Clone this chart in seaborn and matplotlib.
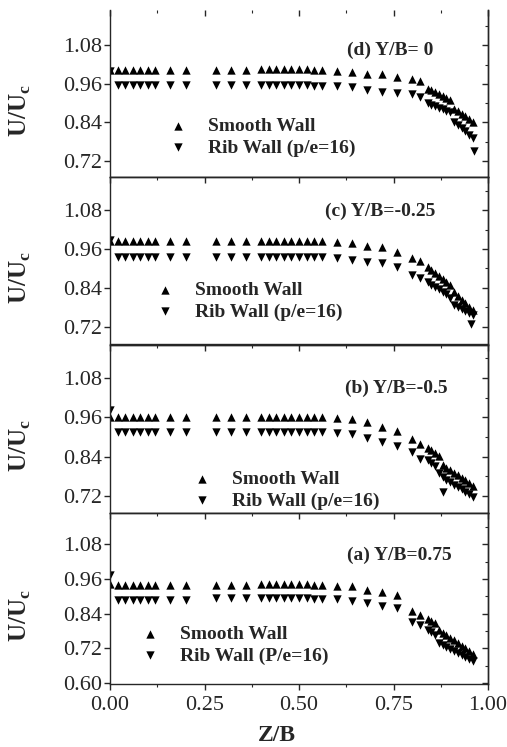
import pandas as pd
import seaborn as sns
import matplotlib.pyplot as plt
from matplotlib.ticker import MultipleLocator, FormatStrFormatter

# Posições Z/B (comuns às duas séries)
Z = [0.00, 0.02, 0.04, 0.06, 0.08, 0.10, 0.12, 0.16, 0.20, 0.28, 0.32, 0.36,
     0.40, 0.42, 0.44, 0.46, 0.48, 0.50, 0.52, 0.54, 0.56, 0.60, 0.64, 0.68,
     0.72, 0.76, 0.80, 0.82, 0.84, 0.85, 0.86, 0.87, 0.88, 0.89, 0.90, 0.91,
     0.92, 0.93, 0.94, 0.95, 0.96]

# (d) Y/B = 0
smooth_d = [1.003, 1.003, 1.003, 1.003, 1.003, 1.003, 1.003, 1.003, 1.003, 1.004, 1.004, 1.004,
            1.006, 1.006, 1.006, 1.006, 1.006, 1.006, 1.005, 1.004, 1.004, 1.001, 0.998, 0.992,
            0.991, 0.981, 0.975, 0.968, 0.945, 0.940, 0.934, 0.928, 0.922, 0.917, 0.911, 0.883,
            0.875, 0.867, 0.859, 0.851, 0.842]
rib_d = [1.000, 0.955, 0.955, 0.955, 0.955, 0.955, 0.955, 0.955, 0.955, 0.955, 0.955, 0.955,
         0.956, 0.956, 0.956, 0.955, 0.955, 0.955, 0.955, 0.954, 0.954, 0.953, 0.949, 0.942,
         0.935, 0.932, 0.927, 0.920, 0.899, 0.895, 0.890, 0.886, 0.882, 0.877, 0.873, 0.842,
         0.832, 0.822, 0.812, 0.801, 0.790]
rib_d_extra_z = [0.963]
rib_d_extra_u = [0.752]

# (c) Y/B = -0.25
smooth_c = [0.985, 0.985, 0.985, 0.985, 0.985, 0.985, 0.985, 0.985, 0.985, 0.985, 0.985, 0.985,
            0.986, 0.986, 0.986, 0.986, 0.986, 0.986, 0.986, 0.985, 0.985, 0.981, 0.977, 0.970,
            0.967, 0.952, 0.931, 0.923, 0.905, 0.896, 0.887, 0.878, 0.868, 0.858, 0.848, 0.826,
            0.815, 0.804, 0.793, 0.782, 0.771]
rib_c = [0.988, 0.934, 0.934, 0.934, 0.934, 0.934, 0.934, 0.934, 0.934, 0.934, 0.934, 0.934,
         0.935, 0.935, 0.935, 0.935, 0.935, 0.935, 0.934, 0.934, 0.934, 0.933, 0.926, 0.921,
         0.918, 0.904, 0.880, 0.872, 0.857, 0.850, 0.843, 0.836, 0.828, 0.820, 0.810, 0.787,
         0.781, 0.775, 0.769, 0.763, 0.757]
rib_c_extra_z = [0.955]
rib_c_extra_u = [0.728]

# (b) Y/B = -0.5
smooth_b = [0.962, 0.961, 0.961, 0.961, 0.961, 0.961, 0.961, 0.961, 0.961, 0.961, 0.961, 0.961,
            0.962, 0.962, 0.962, 0.962, 0.962, 0.962, 0.961, 0.961, 0.961, 0.958, 0.953, 0.946,
            0.930, 0.918, 0.895, 0.877, 0.867, 0.859, 0.850, 0.842, 0.815, 0.806, 0.798, 0.790,
            0.783, 0.776, 0.768, 0.760, 0.750]
rib_b = [0.981, 0.915, 0.915, 0.915, 0.915, 0.915, 0.915, 0.915, 0.915, 0.915, 0.915, 0.915,
         0.915, 0.915, 0.915, 0.915, 0.915, 0.915, 0.915, 0.914, 0.914, 0.912, 0.908, 0.898,
         0.885, 0.872, 0.855, 0.834, 0.829, 0.820, 0.810, 0.790, 0.777, 0.769, 0.762, 0.754,
         0.747, 0.740, 0.733, 0.726, 0.718]
rib_b_extra_z = [0.88]
rib_b_extra_u = [0.733]

# (a) Y/B = 0.75
smooth_a = [0.943, 0.940, 0.940, 0.940, 0.940, 0.940, 0.940, 0.940, 0.940, 0.940, 0.940, 0.940,
            0.942, 0.942, 0.942, 0.942, 0.942, 0.942, 0.942, 0.941, 0.941, 0.938, 0.938, 0.923,
            0.917, 0.905, 0.848, 0.836, 0.821, 0.814, 0.807, 0.784, 0.775, 0.766, 0.757, 0.748,
            0.739, 0.730, 0.721, 0.711, 0.700]
rib_a = [0.975, 0.888, 0.888, 0.888, 0.888, 0.888, 0.888, 0.888, 0.888, 0.894, 0.894, 0.894,
         0.894, 0.894, 0.894, 0.894, 0.894, 0.894, 0.894, 0.893, 0.893, 0.890, 0.886, 0.879,
         0.867, 0.861, 0.813, 0.802, 0.784, 0.776, 0.767, 0.738, 0.731, 0.724, 0.717, 0.710,
         0.703, 0.696, 0.689, 0.682, 0.675]
rib_a_extra_z = []
rib_a_extra_u = []

titulos = ["(d) Y/B= 0", "(c) Y/B=-0.25", "(b) Y/B=-0.5", "(a) Y/B=0.75"]
rotulos_rib = ["Rib Wall (p/e=16)", "Rib Wall (p/e=16)", "Rib Wall (p/e=16)", "Rib Wall (P/e=16)"]
yticks_cima = [0.72, 0.84, 0.96, 1.08]
yticks_baixo = [0.60, 0.72, 0.84, 0.96, 1.08]
xticks = [0.00, 0.25, 0.50, 0.75, 1.00]

# Configurar estilo
sns.set_style("ticks")
plt.rcParams['font.family'] = ['Liberation Serif', 'DejaVu Serif']
plt.rcParams['mathtext.fontset'] = 'custom'
plt.rcParams['mathtext.rm'] = 'Liberation Serif:bold'
plt.rcParams['mathtext.bf'] = 'Liberation Serif:bold'
plt.rcParams['axes.linewidth'] = 1.0

W, H = 507, 747
fig = plt.figure(figsize=(W / 100, H / 100), dpi=100)

# layout em pixels
paineis = [
    dict(top=10, bottom=177, ylim=(0.670, 1.190), leg_x=208, leg_y=137, tit_x=347, tit_y=50,
         smooth=smooth_d, rib=rib_d, ez=rib_d_extra_z, eu=rib_d_extra_u, yt=yticks_cima),
    dict(top=177, bottom=344, ylim=(0.667, 1.182), leg_x=195, leg_y=301, tit_x=325, tit_y=211,
         smooth=smooth_c, rib=rib_c, ez=rib_c_extra_z, eu=rib_c_extra_u, yt=yticks_cima),
    dict(top=345, bottom=513, ylim=(0.668, 1.180), leg_x=232, leg_y=490, tit_x=345, tit_y=388,
         smooth=smooth_b, rib=rib_b, ez=rib_b_extra_z, eu=rib_b_extra_u, yt=yticks_cima),
    dict(top=513, bottom=684, ylim=(0.597, 1.189), leg_x=180, leg_y=645, tit_x=347, tit_y=555,
         smooth=smooth_a, rib=rib_a, ez=rib_a_extra_z, eu=rib_a_extra_u, yt=yticks_baixo),
]

X0, XW = 110, 378
fs_leg = 14

for i, p in enumerate(paineis):
    hpx = p['bottom'] - p['top']
    ax = fig.add_axes([X0 / W, 1 - p['bottom'] / H, XW / W, hpx / H])

    sns.scatterplot(x=Z, y=p['smooth'], marker='^', color='black', s=36,
                    linewidth=0, ax=ax, label='Smooth Wall')
    sns.scatterplot(x=Z + p['ez'], y=p['rib'] + p['eu'], marker='v', color='black', s=36,
                    linewidth=0, ax=ax, label=rotulos_rib[i])

    ax.set_xlim(0, 1)
    ax.set_ylim(*p['ylim'])
    ax.set_yticks(p['yt'])
    ax.yaxis.set_major_formatter(FormatStrFormatter('%.2f'))
    ax.tick_params(axis='y', direction='out', length=4, width=1, labelsize=16, pad=2)
    ax.set_xticks(xticks)
    ax.xaxis.set_major_formatter(FormatStrFormatter('%.2f'))

    # ticks do lado direito e de cima (para dentro)
    sy = ax.secondary_yaxis('right')
    sy.set_yticks(p['yt'])
    sy.yaxis.set_minor_locator(MultipleLocator(0.06))
    sy.tick_params(which='major', direction='in', length=4, width=1, labelright=False)
    sy.tick_params(which='minor', direction='in', length=2.5, width=0.8)
    sx = ax.secondary_xaxis('top')
    sx.set_xticks(xticks)
    sx.xaxis.set_minor_locator(MultipleLocator(0.125))
    sx.tick_params(which='major', direction='in', length=4, width=1, labeltop=False)
    sx.tick_params(which='minor', direction='in', length=2.5, width=0.8)
    if i == 0:
        ax.spines['top'].set_visible(False)
        sx.spines['top'].set_visible(False)

    if i == len(paineis) - 1:
        ax.xaxis.set_minor_locator(MultipleLocator(0.125))
        ax.tick_params(axis='x', which='major', direction='out', length=4, width=1,
                       labelsize=16, pad=5)
        ax.tick_params(axis='x', which='minor', direction='out', length=2.5, width=0.8)
        ax.set_xlabel("Z/B", fontsize=17, fontweight='bold')
        ax.xaxis.set_label_coords((277 - X0) / XW, (p['bottom'] - 725) / hpx)
    else:
        ax.tick_params(axis='x', bottom=False, labelbottom=False)
        ax.set_xlabel("")

    ax.set_ylabel(r"U/U$_{\mathbf{c}}$", fontsize=18, fontweight='bold')
    ax.yaxis.set_label_coords((33 - X0) / XW, 0.5 - 17 / hpx)

    # titulo do painel
    ax.text((p['tit_x'] - X0) / XW, (p['bottom'] - p['tit_y']) / hpx, titulos[i],
            transform=ax.transAxes, ha='left', va='center', fontsize=14, fontweight='bold')

    # legenda
    fpx = fs_leg * 100 / 72
    left_px = p['leg_x'] - (0.4 + 1.0 + 1.05) * fpx
    ax.legend(loc='center left',
              bbox_to_anchor=((left_px - X0) / XW, (p['bottom'] - p['leg_y']) / hpx),
              frameon=False, prop=dict(weight='bold', size=fs_leg),
              handlelength=1.0, handletextpad=1.05, labelspacing=0.2,
              borderpad=0.4, borderaxespad=0)

plt.savefig("out.png", dpi=100)
